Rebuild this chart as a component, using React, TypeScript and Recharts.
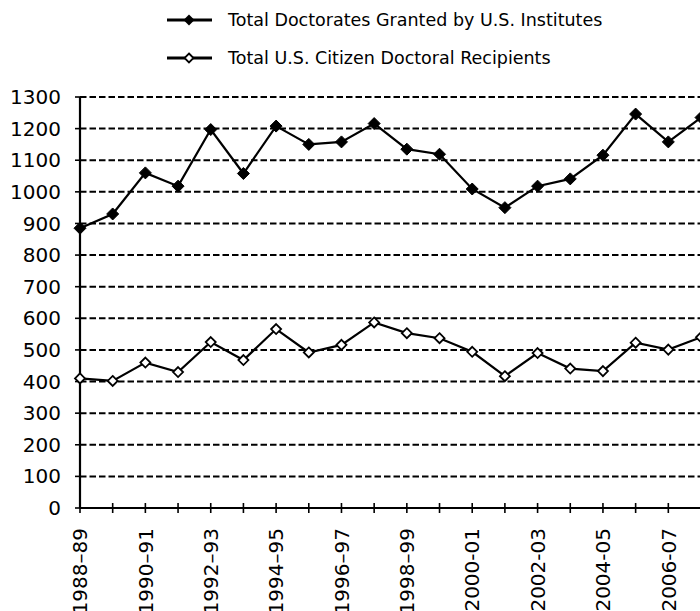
import {
  CartesianGrid,
  Legend,
  Line,
  LineChart,
  XAxis,
  YAxis,
} from "recharts";

const years = [
  "1988–89", "1989–90", "1990–91", "1991–92", "1992–93",
  "1993–94", "1994–95", "1995–96", "1996–97", "1997–98",
  "1998–99", "1999–00", "2000-01", "2001-02", "2002-03",
  "2003-04", "2004-05", "2005-06", "2006-07", "2007-08",
];

const totalDoctorates = [
  885, 930, 1060, 1018, 1197, 1058, 1208, 1150, 1158, 1216,
  1135, 1119, 1009, 950, 1018, 1041, 1116, 1246, 1158, 1235,
];

const citizenRecipients = [
  410, 402, 460, 430, 525, 468, 566, 492, 516, 587,
  553, 537, 494, 417, 490, 441, 433, 523, 501, 540,
];

const yTicks = [0, 100, 200, 300, 400, 500, 600, 700, 800, 900, 1000, 1100, 1200, 1300];

const seriesNames = [
  "Total Doctorates Granted by U.S. Institutes",
  "Total U.S. Citizen Doctoral Recipients",
];

const data = years.map((year, i) => ({
  year,
  total: totalDoctorates[i],
  citizen: citizenRecipients[i],
}));

const FONT = "'DejaVu Sans', Verdana, sans-serif";

function diamond(cx: number, cy: number, r: number) {
  return `${cx},${cy - r} ${cx + r},${cy} ${cx},${cy + r} ${cx - r},${cy}`;
}

function FilledDot(props: any) {
  const { cx, cy } = props;
  if (cx == null || cy == null) return null;
  return <polygon points={diamond(cx, cy, 6)} fill="#000" stroke="#000" strokeWidth={1} />;
}

function HollowDot(props: any) {
  const { cx, cy } = props;
  if (cx == null || cy == null) return null;
  return <polygon points={diamond(cx, cy, 5)} fill="#fff" stroke="#000" strokeWidth={1.8} />;
}

function XTick(props: any) {
  const { x, y, payload, index } = props;
  return (
    <g>
      <line x1={x} y1={y - 5} x2={x} y2={y + 5} stroke="#000" strokeWidth={1.6} />
      {index % 2 === 0 && (
        <text
          x={x}
          y={y + 20}
          dy="0.36em"
          transform={`rotate(-90 ${x} ${y + 20})`}
          textAnchor="end"
          fontSize={20}
          fontFamily={FONT}
          fill="#000"
        >
          {payload.value}
        </text>
      )}
    </g>
  );
}

function renderLegend() {
  const rows = [20, 58];
  return (
    <div
      style={{
        position: "relative",
        width: 700,
        height: 80,
        fontFamily: FONT,
        fontSize: 17.5,
        color: "#000",
      }}
    >
      {seriesNames.map((name, i) => (
        <div
          key={name}
          style={{
            position: "absolute",
            left: 167,
            top: rows[i] - 12,
            height: 24,
            display: "flex",
            alignItems: "center",
            whiteSpace: "nowrap",
          }}
        >
          <svg width={46} height={24} style={{ display: "block" }}>
            <line x1={0} y1={12} x2={45} y2={12} stroke="#000" strokeWidth={2.8} />
            {i === 0 ? (
              <polygon points={diamond(22, 12, 5.5)} fill="#000" />
            ) : (
              <polygon points={diamond(22, 12, 4.5)} fill="#fff" stroke="#000" strokeWidth={1.8} />
            )}
          </svg>
          <span style={{ marginLeft: 15 }}>{name}</span>
        </div>
      ))}
    </div>
  );
}

export default function App() {
  return (
    <div
      style={{
        position: "absolute",
        left: 0,
        top: 0,
        width: 700,
        height: 611,
        overflow: "hidden",
        background: "#fff",
        fontFamily: FONT,
      }}
    >
      <LineChart
        width={720}
        height={620}
        data={data}
        margin={{ top: 17, right: 19, bottom: 0, left: 0 }}
      >
        <Legend
          verticalAlign="top"
          align="left"
          content={renderLegend}
          wrapperStyle={{ top: 0, left: 0, width: 700 }}
        />
        <CartesianGrid
          vertical={false}
          stroke="#000"
          strokeWidth={2}
          strokeDasharray="6.5 3"
        />
        <XAxis
          dataKey="year"
          interval={0}
          height={112}
          tickSize={0}
          tickMargin={0}
          tickLine={false}
          tick={<XTick />}
          axisLine={{ stroke: "#000", strokeWidth: 2.2 }}
        />
        <YAxis
          domain={[0, 1300]}
          ticks={yTicks}
          interval={0}
          width={80}
          tickSize={5}
          tickMargin={14}
          tick={{ fill: "#000", fontSize: 20, fontFamily: FONT }}
          tickLine={{ stroke: "#000", strokeWidth: 1.6 }}
          axisLine={{ stroke: "#000", strokeWidth: 2.2 }}
        />
        <Line
          type="linear"
          dataKey="total"
          name={seriesNames[0]}
          stroke="#000"
          strokeWidth={2.2}
          dot={<FilledDot />}
          activeDot={false}
          isAnimationActive={false}
        />
        <Line
          type="linear"
          dataKey="citizen"
          name={seriesNames[1]}
          stroke="#000"
          strokeWidth={2.2}
          dot={<HollowDot />}
          activeDot={false}
          isAnimationActive={false}
        />
      </LineChart>
    </div>
  );
}
